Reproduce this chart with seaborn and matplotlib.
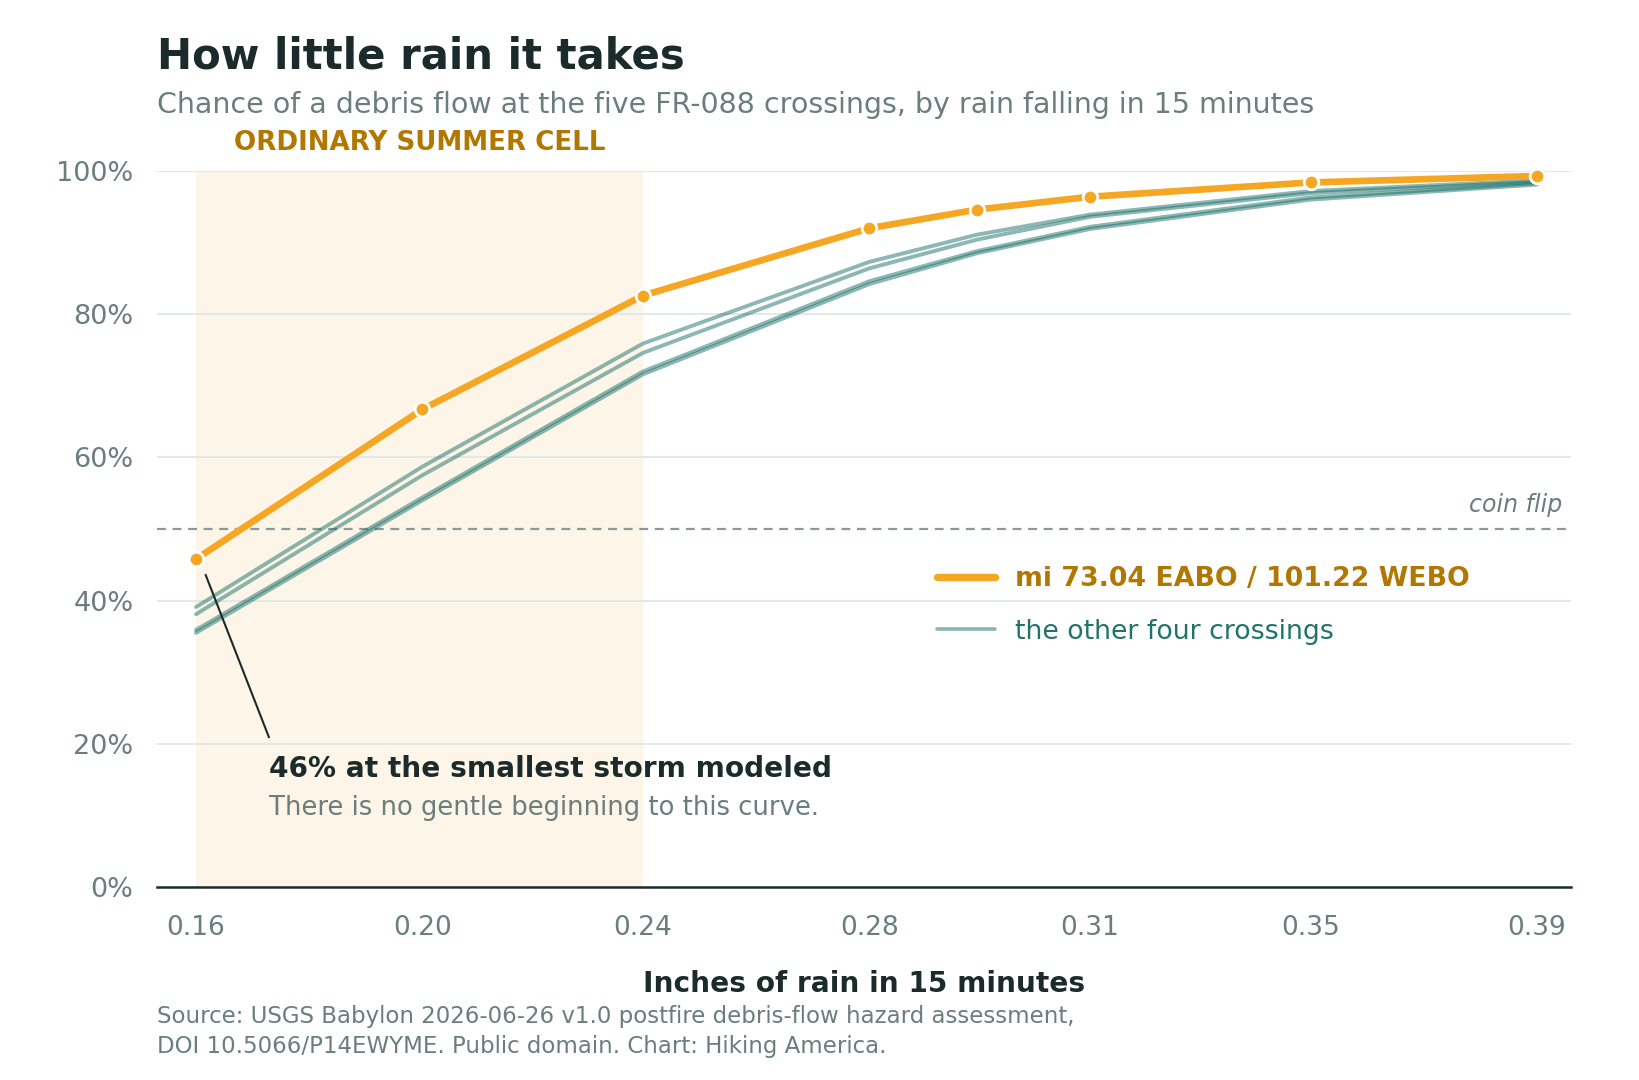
import matplotlib
matplotlib.use("Agg")
import matplotlib.pyplot as plt
from matplotlib.lines import Line2D
import matplotlib.transforms as mtransforms
import seaborn as sns
import pandas as pd

# data
rain = [0.157, 0.197, 0.236, 0.276, 0.295, 0.315, 0.354, 0.394]
eabo_webo = [45.8, 66.7, 82.6, 92.0, 94.6, 96.4, 98.4, 99.3]
crossing_b = [39.1, 58.7, 75.9, 87.3, 91.1, 93.9, 97.2, 98.7]
crossing_c = [38.1, 57.5, 74.6, 86.4, 90.4, 93.6, 96.9, 98.5]
crossing_d = [35.9, 54.4, 72.0, 84.6, 88.8, 92.2, 96.3, 98.3]
crossing_e = [35.5, 54.0, 71.6, 84.2, 88.5, 91.9, 96.0, 98.1]

x_ticks = [0.157, 0.197, 0.236, 0.276, 0.315, 0.354, 0.394]
x_tick_labels = ["0.16", "0.20", "0.24", "0.28", "0.31", "0.35", "0.39"]
y_ticks = [0, 20, 40, 60, 80, 100]
y_tick_labels = ["0%", "20%", "40%", "60%", "80%", "100%"]
summer_cell = [0.157, 0.236]

ORANGE = "#F5A623"
GOLD = "#B27700"
TEAL = "#0F6A62"
TEAL_TXT = "#1F736B"
DARK = "#1B2A2A"
GREY = "#6B7D7D"

sns.set_style("white")
plt.rcParams["font.family"] = ["DejaVu Sans"]

others = pd.DataFrame({
    "rain": rain * 4,
    "prob": crossing_b + crossing_c + crossing_d + crossing_e,
    "crossing": ["b"] * 8 + ["c"] * 8 + ["d"] * 8 + ["e"] * 8,
})
main = pd.DataFrame({"rain": rain, "prob": eabo_webo})

fig = plt.figure(figsize=(16.4, 10.8), dpi=100)
ax = fig.add_axes([0.0957, 0.1787, 0.8622, 0.663])

ax.axvspan(summer_cell[0], summer_cell[1], color="#FDF5E8", zorder=0, lw=0)
for y in y_ticks[1:]:
    ax.axhline(y, color="#DFE7E7", lw=1.3, zorder=1)
ax.axhline(50, color="#8A9A9A", lw=1.6, ls=(0, (4, 3)), zorder=2)

for name, grp in others.groupby("crossing"):
    sns.lineplot(data=grp, x="rain", y="prob", color=TEAL, alpha=0.48,
                 lw=2.8, ax=ax, zorder=3, legend=False)
sns.lineplot(data=main, x="rain", y="prob", color=ORANGE, lw=4.8,
             marker="o", markersize=10.5, markeredgecolor="white",
             markeredgewidth=2, ax=ax, zorder=5, legend=False)
ax.lines[-1].set_clip_on(False)

ax.set_xlim(0.1501, 0.400)
ax.set_ylim(0, 100)
ax.set_xticks(x_ticks)
ax.set_xticklabels(x_tick_labels)
ax.set_yticks(y_ticks)
ax.set_yticklabels(y_tick_labels)
ax.tick_params(axis="x", length=8, width=1.2, color=GREY, pad=12,
               labelsize=19, labelcolor=GREY)
ax.tick_params(axis="y", length=0, pad=17, labelsize=19.5, labelcolor=GREY)
ax.set_xlabel("")
ax.set_ylabel("")
for s in ["top", "right", "left"]:
    ax.spines[s].set_visible(False)
ax.spines["bottom"].set_color(DARK)
ax.spines["bottom"].set_linewidth(1.8)
ax.spines["bottom"].set_zorder(6)

# summer cell label
trans = mtransforms.blended_transform_factory(ax.transData, fig.transFigure)
ax.text(sum(summer_cell) / 2, 0.861, "ORDINARY SUMMER CELL", transform=trans,
        ha="center", va="baseline", fontsize=18.8, fontweight="bold", color=GOLD)

ax.text(0.3984, 52.4, "coin flip", ha="right", va="baseline", fontsize=17,
        style="italic", color=GREY)

# annotation
ax.annotate("", xy=(0.1587, 43.6), xytext=(0.1699, 20.9),
            arrowprops=dict(arrowstyle="-", color=DARK, lw=1.5,
                            shrinkA=0, shrinkB=0))
ax.text(0.1699, 15.4, "46% at the smallest storm modeled", ha="left",
        va="baseline", fontsize=20.2, fontweight="bold", color=DARK)
ax.text(0.1699, 10.1, "There is no gentle beginning to this curve.", ha="left",
        va="baseline", fontsize=18.6, color=GREY)

handles = [Line2D([], [], color=ORANGE, lw=5.3),
           Line2D([], [], color="#8AB5B0", lw=2.6)]
leg = fig.legend(handles, ["mi 73.04 EABO / 101.22 WEBO", "the other four crossings"],
                 loc="upper left", bbox_to_anchor=(0.5713, 0.476), frameon=False,
                 fontsize=19.3, handlelength=2.15, handletextpad=0.75,
                 labelspacing=1.0, borderpad=0, borderaxespad=0)
leg.get_texts()[0].set_color(GOLD)
leg.get_texts()[0].set_fontweight("bold")
leg.get_texts()[1].set_color(TEAL_TXT)

fig.text(0.0957, 0.937, "How little rain it takes", fontsize=30.2,
         fontweight="bold", color=DARK, va="baseline")
fig.text(0.0957, 0.8954,
         "Chance of a debris flow at the five FR-088 crossings, by rain falling in 15 minutes",
         fontsize=20.5, color=GREY, va="baseline")
fig.text(0.0957 + 0.8622 / 2, 0.0815, "Inches of rain in 15 minutes", ha="center",
         va="baseline", fontsize=20.2, fontweight="bold", color=DARK)
fig.text(0.0957, 0.0528,
         "Source: USGS Babylon 2026-06-26 v1.0 postfire debris-flow hazard assessment,",
         fontsize=16.5, color=GREY, va="baseline")
fig.text(0.0957, 0.025,
         "DOI 10.5066/P14EWYME. Public domain. Chart: Hiking America.",
         fontsize=16.5, color=GREY, va="baseline")

fig.savefig("out.png", dpi=100)
